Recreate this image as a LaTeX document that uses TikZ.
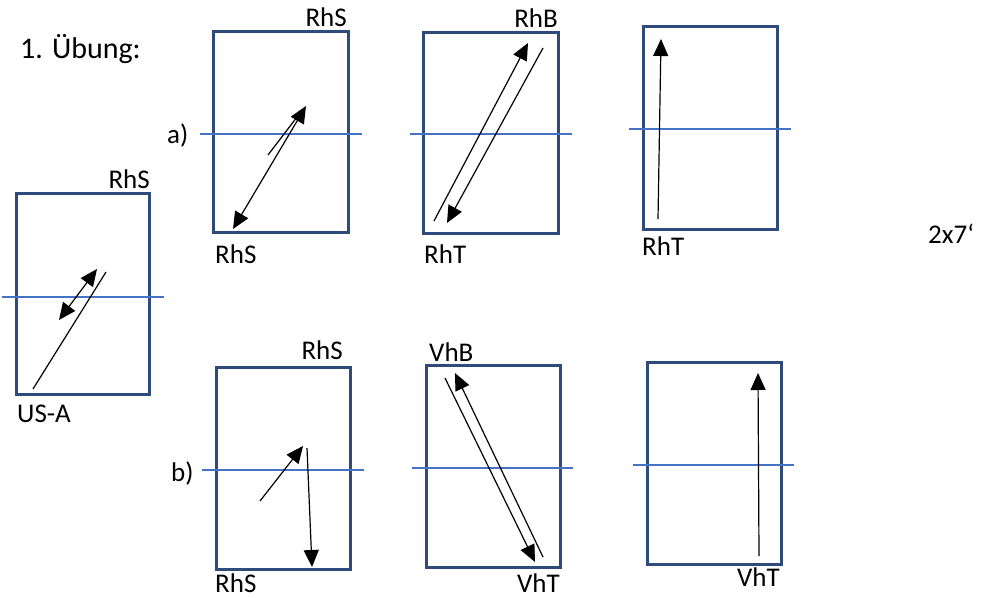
\documentclass[tikz,border=0pt]{standalone}
\usepackage{fontspec}
\setmainfont{Carlito}
\usetikzlibrary{arrows.meta}
\definecolor{boxc}{HTML}{2F4B7C}
\definecolor{linec}{HTML}{4472C4}
\tikzset{
  frame/.style={draw=boxc, line width=3pt},
  midline/.style={draw=linec, line width=1.2pt},
  tip/.tip={Triangle[length=17pt,width=15pt]},
  arr/.style={draw=black, line width=1.2pt, -tip},
  darr/.style={draw=black, line width=1.2pt, tip-tip},
  plain/.style={draw=black, line width=1.2pt},
  lbl/.style={inner sep=0pt, anchor=base west, font=\fontsize{27}{32}\selectfont},
  lblr/.style={lbl, anchor=base east},
  big/.style={inner sep=0pt, anchor=base west, font=\fontsize{30}{36}\selectfont}
}
\begin{document}
\begin{tikzpicture}[x=1pt,y=-1pt]
\useasboundingbox (0,0) rectangle (981,597);
% left box
\draw[frame] (16,193) rectangle (149,394);
\coordinate (L1) at (2,297); \coordinate (L2) at (164,297);
\draw[midline] (L1) -- (L2);
\coordinate (la) at (59,320); \coordinate (lb) at (97,269);
\coordinate (lc) at (33,389); \coordinate (ld) at (106,272);
\draw[darr] (la) -- (lb);
\draw[plain] (lc) -- (ld);
\node[lblr] (t1) at (150,188) {RhS};
\node[lbl] (t2) at (17,422) {US-A};
% title
\node[big] (title) at (20,58) {1. Übung:};
\node[lbl] (time) at (928,243) {2x7‘};
% top row box 1
\draw[frame] (213,31) rectangle (348,232);
\coordinate (A1) at (200,134); \coordinate (A2) at (362,134);
\draw[midline] (A1) -- (A2);
\coordinate (aa) at (233,229); \coordinate (ab) at (306,106);
\coordinate (ac) at (268,155); \coordinate (ad) at (297,117);
\draw[darr] (aa) -- (ab);
\draw[plain] (ac) -- (ad);
\node[lblr] (t3) at (347,26) {RhS};
\node[lbl] (t4) at (215,263) {RhS};
\node[lbl] (t5) at (167,143) {a)};
% top row box 2
\draw[frame] (423,32) rectangle (558,233);
\coordinate (B1) at (410,134); \coordinate (B2) at (572,134);
\draw[midline] (B1) -- (B2);
\coordinate (ba) at (434,221); \coordinate (bb) at (528,43);
\coordinate (bc) at (543,48); \coordinate (bd) at (447,223);
\draw[arr] (ba) -- (bb);
\draw[arr] (bc) -- (bd);
\node[lblr] (t6) at (558,27) {RhB};
\node[lbl] (t7) at (424,263) {RhT};
% top row box 3
\draw[frame] (643,26) rectangle (777,229);
\coordinate (C1) at (629,129); \coordinate (C2) at (791,129);
\draw[midline] (C1) -- (C2);
\coordinate (ca) at (658,219); \coordinate (cb) at (661,39);
\draw[arr] (ca) -- (cb);
\node[lbl] (t8) at (642,255) {RhT};
% bottom row box 1
\draw[frame] (216,367) rectangle (350,569);
\coordinate (D1) at (202,470); \coordinate (D2) at (364,470);
\draw[midline] (D1) -- (D2);
\coordinate (da) at (260,501); \coordinate (db) at (303,446);
\coordinate (dc) at (307,448); \coordinate (dd) at (312,567);
\draw[arr] (da) -- (db);
\draw[arr] (dc) -- (dd);
\node[lblr] (t9) at (343,359) {RhS};
\node[lbl] (t10) at (215,592) {RhS};
\node[lbl] (t11) at (171,481) {b)};
% bottom row box 2
\draw[frame] (426,365) rectangle (560,567);
\coordinate (E1) at (412,468); \coordinate (E2) at (573,468);
\draw[midline] (E1) -- (E2);
\coordinate (ea) at (445,378); \coordinate (eb) at (535,562);
\coordinate (ec) at (543,557); \coordinate (ed) at (455,373);
\draw[arr] (ea) -- (eb);
\draw[arr] (ec) -- (ed);
\node[lbl] (t12) at (429,361) {VhB};
\node[lblr] (t13) at (560,592) {VhT};
% bottom row box 3
\draw[frame] (647,362) rectangle (781,564);
\coordinate (F1) at (633,465); \coordinate (F2) at (794,465);
\draw[midline] (F1) -- (F2);
\coordinate (fa) at (759,556); \coordinate (fb) at (758,373);
\draw[arr] (fa) -- (fb);
\node[lblr] (t14) at (780,586) {VhT};
\end{tikzpicture}
\end{document}
